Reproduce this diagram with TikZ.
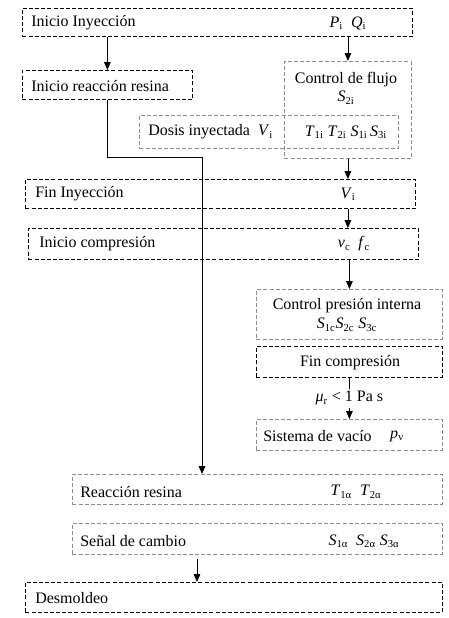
\documentclass[tikz,border=0pt]{standalone}
\usepackage{fontspec}
\setmainfont{Liberation Serif}
\usetikzlibrary{
  arrows.meta,
  positioning,
  calc
}
\definecolor{pcLine}{HTML}{000000}
\definecolor{pcCtrl}{HTML}{8C8C8C}
\newcommand{\pvar}[2]{\textit{#1}\textsubscript{#2}}
\def\pxu{0.75pt}
\tikzset{
  pcnode/.style={
    rectangle, anchor=north west, line width=0.6pt,
    dash pattern=on 3pt off 1.6pt, inner sep=0pt
  },
  stepbox/.style={pcnode, draw=pcLine},
  ctrlbox/.style={pcnode, draw=pcCtrl},
  steptxt/.style={anchor=west, inner sep=0pt, font=\fontsize{12}{14}\selectfont},
  vartxt/.style={inner sep=0pt, font=\fontsize{12}{14}\selectfont, align=center},
  flow/.style={-{Triangle[length=6pt, width=5pt]}, line width=0.6pt, pcLine}
}
\begin{document}
\begin{tikzpicture}[x=\pxu, y=-\pxu]
  \useasboundingbox (0,0) rectangle (449,618);
  % boxes
  \node[stepbox, minimum width=390*\pxu, minimum height=28*\pxu] (ini) at (22,8) {};
  \node[stepbox, minimum width=170*\pxu, minimum height=29*\pxu] (reac) at (22,70) {};
  \node[ctrlbox, minimum width=127*\pxu, minimum height=97*\pxu] (flujo) at (284,61) {};
  \node[ctrlbox, minimum width=259*\pxu, minimum height=33*\pxu] (dosis) at (139,115) {};
  \node[stepbox, minimum width=390*\pxu, minimum height=29*\pxu] (fin) at (25,179) {};
  \node[stepbox, minimum width=390*\pxu, minimum height=31*\pxu] (comp) at (28,228) {};
  \node[ctrlbox, minimum width=186*\pxu, minimum height=50*\pxu] (presion) at (256,289) {};
  \node[stepbox, minimum width=186*\pxu, minimum height=31*\pxu] (fincomp) at (256,346) {};
  \node[ctrlbox, minimum width=186*\pxu, minimum height=31*\pxu] (vacio) at (256,419) {};
  \node[ctrlbox, minimum width=370*\pxu, minimum height=30*\pxu] (resina) at (72,474) {};
  \node[ctrlbox, minimum width=370*\pxu, minimum height=31*\pxu] (senal) at (72,523) {};
  \node[stepbox, minimum width=417*\pxu, minimum height=30*\pxu] (desm) at (25,582) {};

  % texts
  \node[steptxt] (ini-t) at (31,23) {Inicio Inyección};
  \node[vartxt] (ini-v) at (348,23) {\pvar{P}{i}\ \ \pvar{Q}{i}};
  \node[steptxt] (reac-t) at (31,86) {Inicio reacción resina};
  \node[vartxt] (flujo-t) at (346,88) {Control de flujo\\\pvar{S}{2i}};
  \node[steptxt] (dosis-t) at (148,132) {Dosis inyectada\ \ \pvar{V}{i}};
  \node[vartxt] (dosis-v) at (346,132) {\pvar{T}{1i}\ \pvar{T}{2i}\ \pvar{S}{1i}\,\pvar{S}{3i}};
  \node[steptxt] (fin-t) at (35,194) {Fin Inyección};
  \node[vartxt] (fin-v) at (348,194) {\pvar{V}{i}};
  \node[steptxt] (comp-t) at (39,244) {Inicio compresión};
  \node[vartxt] (comp-v) at (354,244) {\pvar{v}{c}\ \ \pvar{f}{c}};
  \node[vartxt] (presion-t) at (347,315) {Control presión interna\\\pvar{S}{1c}\pvar{S}{2c}\ \pvar{S}{3c}};
  \node[vartxt] (fincomp-t) at (350,363) {Fin compresión};
  \node[steptxt] (vacio-t) at (263,436) {Sistema de vacío};
  \node[vartxt] (vacio-v) at (397,436) {\pvar{p}{v}};
  \node[steptxt] (resina-t) at (80,492) {Reacción resina};
  \node[vartxt] (resina-v) at (356,492) {\pvar{T}{1α}\ \ \pvar{T}{2α}};
  \node[steptxt] (senal-t) at (80,541) {Señal de cambio};
  \node[vartxt] (senal-v) at (364,541) {\pvar{S}{1α}\ \ \pvar{S}{2α}\ \pvar{S}{3α}};
  \node[steptxt] (desm-t) at (35,598) {Desmoldeo};

  % connectors
  \coordinate (bend) at (202,157);
  \coordinate (drop) at (197,0);
  \draw[flow] (reac.north |- ini.south) -- (reac.north);
  \draw[flow] (flujo.north |- ini.south) -- (flujo.north);
  \draw[flow] (flujo.south) -- (fin.north -| flujo.south);
  \draw[flow] (fin.south -| flujo.south) -- (comp.north -| flujo.south);
  \draw[flow] (comp.south -| presion.north) -- (presion.north);
  \draw[flow] (fincomp.south) -- node[vartxt, fill=white, inner sep=2pt] (mu) {\pvar{μ}{r} < 1 Pa s} (vacio.north);
  \draw[flow] (reac.south) |- (bend) -- (resina.north -| bend);
  \draw[flow] ([yshift=-4*\pxu]senal.south -| drop) -- (desm.north -| drop);
\end{tikzpicture}
\end{document}
